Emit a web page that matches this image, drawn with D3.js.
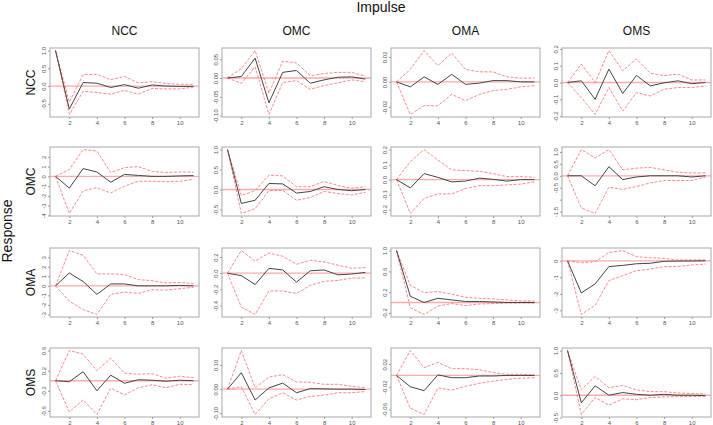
<!DOCTYPE html>
<html>
<head>
<meta charset="utf-8">
<script src="https://cdn.jsdelivr.net/npm/d3@7"></script>
<style>
  html, body { margin: 0; padding: 0; background: #fff; }
  svg { display: block; font-family: "Liberation Sans", Arial, sans-serif; }
</style>
</head>
<body>
<svg id="chart" width="713" height="425"></svg>
<script>
// ---- categories ----
const variables = ["NCC", "OMC", "OMA", "OMS"];   // impulses (columns) and responses (rows)
const steps = [1, 2, 3, 4, 5, 6, 7, 8, 9, 10, 11];
const xTicks = [2, 4, 6, 8, 10];

// ---- response NCC (columns: impulse NCC, OMC, OMA, OMS) ----
const nccMean = [
  [1.0, -0.65, 0.1, 0.08, -0.04, 0.04, -0.06, 0.03, 0.0, -0.01, -0.01],
  [0, 0.004, 0.053, -0.066, 0.015, 0.02, -0.014, -0.005, 0.002, 0.003, -0.003],
  [0, -0.004, 0.004, -0.002, 0.006, -0.002, -0.001, 0.001, 0.001, 0, 0],
  [0, 0.01, -0.1, 0.08, -0.065, 0.042, -0.02, -0.002, 0.01, -0.007, 0]
];
const nccUpper = [
  [1.0, -0.45, 0.32, 0.33, 0.18, 0.27, 0.09, 0.12, 0.07, 0.05, 0.05],
  [0, 0.025, 0.073, -0.04, 0.045, 0.04, 0.006, 0.012, 0.015, 0.015, 0.005],
  [0, 0.01, 0.025, 0.013, 0.023, 0.01, 0.008, 0.008, 0.004, 0.003, 0.003],
  [0, 0.11, 0.0, 0.19, 0.07, 0.14, 0.055, 0.04, 0.05, 0.015, 0.015]
];
const nccLower = [
  [1.0, -0.8, -0.15, -0.18, -0.23, -0.12, -0.23, -0.07, -0.08, -0.08, -0.03],
  [0, -0.014, 0.03, -0.097, -0.012, -0.007, -0.03, -0.02, -0.013, -0.005, -0.01],
  [0, -0.026, -0.019, -0.019, -0.01, -0.015, -0.01, -0.007, -0.006, -0.004, -0.003],
  [0, -0.09, -0.19, -0.03, -0.17, -0.06, -0.08, -0.04, -0.03, -0.03, -0.02]
];

// ---- response OMC ----
const omcMean = [
  [0, -1.2, 0.8, 0.45, -0.6, 0.2, 0.1, 0.0, 0.0, 0.05, 0.08],
  [1.0, -0.35, -0.27, 0.15, 0.14, -0.09, -0.05, 0.07, 0.0, -0.03, 0.0],
  [0, -0.055, 0.04, 0.015, -0.015, -0.01, 0.01, 0.002, -0.01, 0.0, 0.0],
  [0, 0.0, -0.42, 0.38, -0.16, -0.05, 0.0, 0.0, 0.0, -0.05, 0.0]
];
const omcUpper = [
  [0, 0.7, 2.75, 2.6, 0.4, 0.9, 1.0, 0.5, 0.4, 0.45, 0.45],
  [1.0, -0.15, -0.03, 0.36, 0.34, 0.07, 0.07, 0.2, 0.1, 0.03, 0.07],
  [0, 0.12, 0.2, 0.13, 0.065, 0.06, 0.055, 0.04, 0.02, 0.02, 0.015],
  [0, 1.1, 0.75, 1.1, 0.25, 0.32, 0.35, 0.25, 0.15, 0.12, 0.12]
];
const omcLower = [
  [0, -3.8, -1.5, -1.15, -1.7, -1.0, -0.5, -0.5, -0.55, -0.5, -0.3],
  [1.0, -0.6, -0.48, -0.03, -0.02, -0.27, -0.2, -0.05, -0.1, -0.14, -0.07],
  [0, -0.225, -0.125, -0.095, -0.095, -0.06, -0.04, -0.04, -0.035, -0.03, -0.015],
  [0, -1.35, -1.58, -0.48, -0.57, -0.45, -0.3, -0.2, -0.2, -0.2, -0.05]
];

// ---- response OMA ----
const omaMean = [
  [0, 1.35, 0.45, -0.9, 0.2, 0.2, 0.0, 0.0, 0.0, 0.05, 0.0],
  [0, -0.03, -0.14, 0.06, 0.04, -0.11, 0.03, 0.04, -0.02, -0.01, 0.01],
  [1.0, 0.12, 0.0, 0.08, 0.05, 0.02, 0.02, 0.01, 0.0, 0.0, 0.0],
  [0, -1.95, -1.4, -0.35, -0.28, -0.18, -0.15, -0.03, -0.02, -0.01, 0]
];
const omaUpper = [
  [0, 3.7, 3.2, 1.25, 1.25, 1.2, 0.65, 0.55, 0.3, 0.35, 0.25],
  [0, 0.28, 0.15, 0.25, 0.21, 0.11, 0.16, 0.14, 0.1, 0.06, 0.07],
  [1.0, 0.33, 0.19, 0.21, 0.16, 0.1, 0.08, 0.07, 0.05, 0.03, 0.03],
  [0, -0.12, -0.05, 0.5, 0.62, 0.25, 0.18, 0.15, 0.05, 0.05, 0.05]
];
const omaLower = [
  [0, -1.6, -2.5, -3.0, -0.9, -0.65, -0.8, -0.4, -0.45, -0.3, -0.15],
  [0, -0.42, -0.51, -0.22, -0.22, -0.25, -0.15, -0.1, -0.09, -0.06, -0.06],
  [1.0, -0.1, -0.23, -0.07, -0.02, -0.06, -0.03, -0.02, -0.01, -0.01, -0.01],
  [0, -3.25, -2.7, -1.2, -0.9, -0.6, -0.5, -0.35, -0.35, -0.25, -0.2]
];

// ---- response OMS ----
const omsMean = [
  [0, -0.02, 0.18, -0.2, 0.11, -0.05, 0.02, 0.01, -0.01, 0.01, 0],
  [0, 0.068, -0.045, 0.005, 0.025, -0.015, 0.002, 0.001, 0.0, 0.0, -0.002],
  [0, -0.02, -0.027, 0.001, -0.004, -0.004, -0.001, -0.001, 0, 0, 0],
  [1.0, -0.17, 0.21, 0.0, 0.06, 0.02, 0.0, 0.02, 0.0, 0.0, -0.01]
];
const omsUpper = [
  [0, 0.6, 0.53, 0.2, 0.45, 0.15, 0.13, 0.14, 0.05, 0.09, 0.06],
  [0, 0.16, 0.005, 0.05, 0.06, 0.03, 0.028, 0.02, 0.02, 0.012, 0.005],
  [0, 0.044, 0.014, 0.023, 0.012, 0.012, 0.01, 0.005, 0.002, 0.002, 0.001],
  [1.0, 0.12, 0.42, 0.17, 0.22, 0.12, 0.08, 0.08, 0.05, 0.04, 0.03]
];
const omsLower = [
  [0, -0.62, -0.38, -0.67, -0.15, -0.28, -0.14, -0.08, -0.14, -0.07, -0.08],
  [0, 0.01, -0.105, -0.04, -0.015, -0.045, -0.03, -0.025, -0.015, -0.015, -0.01],
  [0, -0.058, -0.069, -0.022, -0.026, -0.019, -0.014, -0.01, -0.007, -0.005, -0.004],
  [1.0, -0.43, -0.05, -0.22, -0.08, -0.1, -0.05, -0.04, -0.03, -0.03, -0.02]
];

// ---- y tick values / labels (rows: response, cols: impulse) ----
const yTickValues = [
  [[-0.5, 0, 0.5, 1.0], [-0.10, -0.05, 0.00, 0.05], [-0.02, 0.00, 0.02], [-0.2, -0.1, 0.0, 0.1, 0.2]],
  [[-4, -3, -2, -1, 0, 1, 2], [-0.5, 0, 0.5, 1.0], [-0.2, -0.1, 0, 0.1, 0.2], [-1.5, -1.0, -0.5, 0, 0.5, 1.0]],
  [[-3, -2, -1, 0, 1, 2, 3], [-0.4, -0.2, 0, 0.2], [-0.2, 0.2, 0.6, 1.0], [-3, -2, -1, 0]],
  [[-0.6, -0.2, 0.2, 0.6], [-0.10, 0.00, 0.10], [-0.06, -0.02, 0.02], [-0.5, 0, 0.5, 1.0]]
];
const yTickLabels = [
  [["-0.5", "0.0", "0.5", "1.0"], ["-0.10", "-0.05", "0.00", "0.05"], ["-0.02", "0.00", "0.02"], ["-0.2", "-0.1", "0.0", "0.1", "0.2"]],
  [["-4", "-3", "-2", "-1", "0", "1", "2"], ["-0.5", "0.0", "0.5", "1.0"], ["-0.2", "-0.1", "0.0", "0.1", "0.2"], ["-1.5", "", "-0.5", "0.0", "0.5", "1.0"]],
  [["-3", "-2", "-1", "0", "1", "2", "3"], ["-0.4", "-0.2", "0.0", "0.2"], ["-0.2", "0.2", "0.6", "1.0"], ["-3", "-2", "-1", "0"]],
  [["-0.6", "-0.2", "0.2", "0.6"], ["-0.10", "0.00", "0.10"], ["-0.06", "-0.02", "0.02"], ["-0.5", "0.0", "0.5", "1.0"]]
];

const meanRows = [nccMean, omcMean, omaMean, omsMean];
const upperRows = [nccUpper, omcUpper, omaUpper, omsUpper];
const lowerRows = [nccLower, omcLower, omaLower, omsLower];

// ---- layout ----
const colLeft = [50, 222, 391, 562];
const rowTop = [48, 147, 248, 348];
const panelW = 149, panelH = 69;

const svg = d3.select("#chart");
svg.append("rect").attr("width", 713).attr("height", 425).attr("fill", "#fff");

svg.append("text").attr("x", 381).attr("y", 12).attr("text-anchor", "middle")
  .attr("font-size", 14).attr("fill", "#111").text("Impulse");
svg.append("text").attr("transform", "translate(12,231) rotate(-90)").attr("text-anchor", "middle")
  .attr("font-size", 14).attr("fill", "#111").text("Response");

variables.forEach((v, c) => {
  svg.append("text").attr("x", colLeft[c] + panelW / 2).attr("y", 35).attr("text-anchor", "middle")
    .attr("font-size", 12).attr("fill", "#111").text(v);
});
variables.forEach((v, r) => {
  svg.append("text").attr("transform", `translate(35,${rowTop[r] + panelH / 2}) rotate(-90)`)
    .attr("text-anchor", "middle").attr("font-size", 12).attr("fill", "#111").text(v);
});

const redDash = "#ff6b6b";

for (let r = 0; r < 4; r++) {
  for (let c = 0; c < 4; c++) {
    const mean = meanRows[r][c], up = upperRows[r][c], lo = lowerRows[r][c];
    const all = mean.concat(up, lo);
    const ext = d3.extent(all);
    const pad = (ext[1] - ext[0]) * 0.04;
    const xPad = (steps[steps.length - 1] - steps[0]) * 0.04;
    const x = d3.scaleLinear().domain([steps[0] - xPad, steps[steps.length - 1] + xPad])
      .range([colLeft[c], colLeft[c] + panelW]);
    const y = d3.scaleLinear().domain([ext[0] - pad, ext[1] + pad])
      .range([rowTop[r] + panelH, rowTop[r]]);

    const g = svg.append("g");

    // x axis
    const gx = g.append("g").attr("transform", `translate(0,${rowTop[r] + panelH})`)
      .call(d3.axisBottom(x).tickValues(xTicks).tickSize(2).tickPadding(2).tickFormat(d3.format("d")));
    gx.select(".domain").remove();
    gx.selectAll("line").attr("stroke", "#999");
    gx.selectAll("text").attr("font-size", 6).attr("fill", "#555").attr("font-family", "Liberation Sans, Arial");

    // y axis
    const labels = yTickLabels[r][c];
    const vals = yTickValues[r][c];
    const gy = g.append("g").attr("transform", `translate(${colLeft[c]},0)`)
      .call(d3.axisLeft(y).tickValues(vals).tickSize(2).tickFormat((d, i) => labels[i]));
    gy.select(".domain").remove();
    gy.selectAll("line").attr("stroke", "#999");
    gy.selectAll("text")
      .attr("font-size", 6).attr("fill", "#555").attr("font-family", "Liberation Sans, Arial")
      .attr("x", 0).attr("y", -4).attr("dy", 0)
      .attr("text-anchor", "middle")
      .attr("transform", "rotate(-90)");

    // zero line
    g.append("line")
      .attr("x1", colLeft[c]).attr("x2", colLeft[c] + panelW)
      .attr("y1", y(0)).attr("y2", y(0))
      .attr("stroke", "#ffaaaa").attr("stroke-width", 1.3);

    const line = d3.line().x((d, i) => x(steps[i])).y(d => y(d));

    g.append("path").datum(up).attr("d", line).attr("fill", "none")
      .attr("stroke", redDash).attr("stroke-width", 1).attr("stroke-dasharray", "3,1.5").attr("opacity", 0.8);
    g.append("path").datum(lo).attr("d", line).attr("fill", "none")
      .attr("stroke", redDash).attr("stroke-width", 1).attr("stroke-dasharray", "3,1.5").attr("opacity", 0.8);
    g.append("path").datum(mean).attr("d", line).attr("fill", "none")
      .attr("stroke", "#444").attr("stroke-width", 1);

    // frame
    g.append("rect").attr("x", colLeft[c]).attr("y", rowTop[r])
      .attr("width", panelW).attr("height", panelH)
      .attr("fill", "none").attr("stroke", "#a8a8a8").attr("stroke-width", 1);
  }
}
</script>
</body>
</html>
